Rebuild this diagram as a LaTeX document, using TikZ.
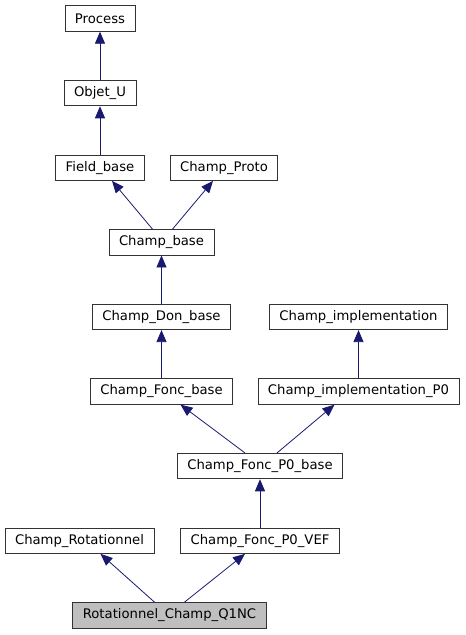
\documentclass[tikz,border=0pt]{standalone}
\usepackage{fontspec}
\setmainfont{DejaVu Sans}
\usepackage{tikz}
\usetikzlibrary{
	arrows.meta
}
\definecolor{midnight}{RGB}{25,25,112}
\tikzset{
	node distance=74.6pt,
	classbox/.style={
		draw=black!80,
		line width=0.8pt,
		fill=white,
		minimum height=25.5pt,
		inner xsep=10pt,
		inner ysep=0pt,
		font=\fontsize{13.2}{16}\selectfont
	},
	focusbox/.style={
		classbox,
		fill=black!25
	},
	every edge/.append style={
		draw=midnight,
		line width=0.8pt,
		-{Triangle[length=12pt,width=10pt]}
	}
}
\begin{document}
\begin{tikzpicture}[x=1pt,y=1pt]
	\useasboundingbox (0,0) rectangle (466,-635);
	\draw
		node [classbox] at (100,-18.5)                        (pr)   {Process}
		node [classbox,below of=pr]                          (ou)   {Objet\_U}
		node [classbox,below of=ou]                          (fb)   {Field\_base}
		node [classbox,node distance=124pt,right of=fb]      (cp)   {Champ\_Proto}
		node [classbox,below of=fb,xshift=61.5pt]            (cb)   {Champ\_base}
		node [classbox,below of=cb]                          (cdb)  {Champ\_Don\_base}
		node [classbox,node distance=197pt,right of=cdb]     (ci)   {Champ\_implementation}
		node [classbox,below of=cdb]                         (cfb)  {Champ\_Fonc\_base}
		node [classbox,below of=ci]                          (cip)  {Champ\_implementation\_P0}
		node [classbox,below of=cfb,xshift=98.5pt]           (cfpb) {Champ\_Fonc\_P0\_base}
		node [classbox,below of=cfpb]                        (cfpv) {Champ\_Fonc\_P0\_VEF}
		node [classbox,node distance=180.5pt,left of=cfpv]   (cr)   {Champ\_Rotationnel}
		node [focusbox,below of=cfpv,xshift=-90.5pt]         (rcq)  {Rotationnel\_Champ\_Q1NC}

		(ou.north)                 edge (pr.south)
		(fb.north)                 edge (ou.south)
		([xshift=-9pt]cb.north)    edge ([xshift=12pt]fb.south)
		([xshift=11pt]cb.north)    edge ([xshift=-11pt]cp.south)
		(cdb.north)                edge (cb.south)
		(cfb.north)                edge (cdb.south)
		(cip.north)                edge (ci.south)
		([xshift=-15pt]cfpb.north) edge ([xshift=19pt]cfb.south)
		([xshift=17pt]cfpb.north)  edge ([xshift=-24pt]cip.south)
		(cfpv.north)               edge (cfpb.south)
		([xshift=-15pt]rcq.north)  edge ([xshift=21pt]cr.south)
		([xshift=15pt]rcq.north)   edge ([xshift=-15pt]cfpv.south)
	;
\end{tikzpicture}
\end{document}
